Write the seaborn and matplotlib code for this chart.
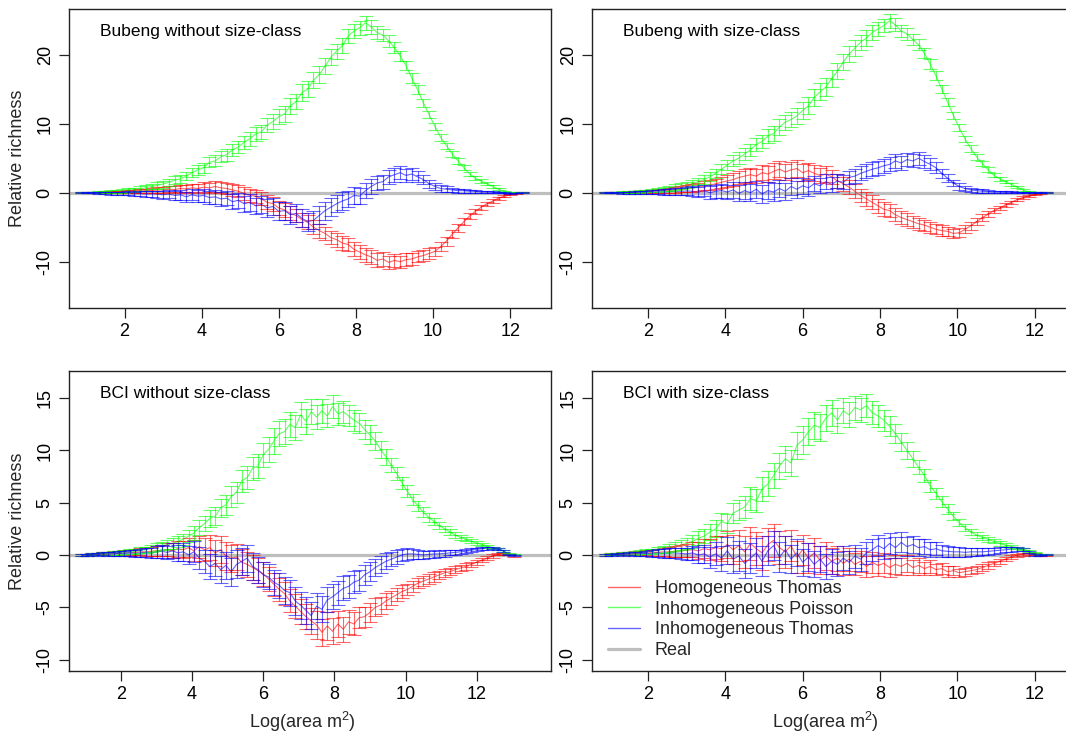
import numpy as np
import pandas as pd
import matplotlib
matplotlib.use("Agg")
import matplotlib.pyplot as plt
from matplotlib.lines import Line2D
import seaborn as sns

# ---------------------------------------------------------------------------
# Relative richness (simulated minus real) along log(area) for three models.
# Each panel is sampled on a regular log(area) grid starting at X_START.
# ---------------------------------------------------------------------------
X_START = 0.9
X_STEP = 0.15

MODELS = ["Homogeneous Thomas", "Inhomogeneous Poisson", "Inhomogeneous Thomas"]
MODEL_COLORS = ["#FF0000", "#00FF00", "#0000FF"]
REAL_LABEL = "Real"

# ---- Bubeng without size-class ----
bub_nosc_ht = [0.0, 0.0, 0.0, 0.05, 0.05, 0.1, 0.1, 0.1, 0.15, 0.2,
               0.2, 0.3, 0.3, 0.4, 0.4, 0.5, 0.45, 0.6, 0.55, 0.7,
               0.6, 0.8, 0.7, 0.9, 0.7, 0.6, 0.4, 0.2, -0.1, -0.4,
               -0.5, -0.9, -1.4, -1.6, -2.2, -2.5, -3.0, -3.3, -3.9, -4.3,
               -5.0, -5.5, -5.9, -6.5, -6.8, -7.3, -7.5, -8.2, -8.6, -9.0,
               -9.3, -9.8, -9.6, -10.1, -9.8, -10.0, -9.7, -9.6, -9.3, -9.1,
               -8.8, -8.5, -7.8, -7.0, -6.0, -5.1, -4.2, -3.4, -2.7, -2.1,
               -1.6, -1.2, -0.8, -0.5, -0.3, -0.1, 0.0]
bub_nosc_ht_se = [0.1, 0.1, 0.1, 0.1, 0.15, 0.15, 0.2, 0.2, 0.2, 0.25,
                  0.3, 0.3, 0.35, 0.4, 0.4, 0.45, 0.5, 0.55, 0.6, 0.6,
                  0.65, 0.7, 0.7, 0.75, 0.8, 0.8, 0.85, 0.85, 0.9, 0.9,
                  0.95, 0.95, 1.0, 1.0, 1.0, 1.0, 1.0, 1.0, 1.0, 1.0,
                  1.0, 1.0, 1.0, 1.0, 1.0, 1.0, 1.0, 1.0, 1.0, 1.0,
                  1.0, 1.0, 1.0, 0.95, 0.95, 0.9, 0.9, 0.85, 0.8, 0.8,
                  0.75, 0.7, 0.7, 0.65, 0.6, 0.55, 0.5, 0.45, 0.4, 0.35,
                  0.3, 0.25, 0.2, 0.15, 0.1, 0.05, 0.05]
bub_nosc_ip = [0.0, 0.0, 0.05, 0.1, 0.1, 0.15, 0.2, 0.25, 0.35, 0.45,
               0.55, 0.7, 0.9, 1.05, 1.25, 1.5, 1.8, 2.0, 2.4, 2.9,
               3.3, 3.6, 4.4, 4.6, 5.2, 5.5, 6.2, 6.6, 7.3, 7.8,
               8.5, 8.8, 9.8, 10.3, 11.0, 11.4, 12.6, 13.2, 14.5, 15.0,
               16.3, 17.1, 18.3, 19.6, 20.5, 21.3, 22.7, 23.4, 23.9, 24.6,
               24.0, 23.2, 22.8, 22.0, 21.0, 19.8, 18.4, 16.6, 14.9, 13.0,
               11.3, 9.6, 8.0, 6.8, 5.6, 4.6, 3.6, 2.7, 2.1, 1.7,
               1.3, 0.9, 0.5, 0.15, 0.0, 0.0, 0.0]
bub_nosc_ip_se = [0.1, 0.1, 0.1, 0.15, 0.15, 0.2, 0.2, 0.25, 0.3, 0.3,
                  0.35, 0.4, 0.4, 0.45, 0.5, 0.5, 0.55, 0.6, 0.6, 0.65,
                  0.7, 0.7, 0.75, 0.8, 0.8, 0.85, 0.9, 0.9, 0.95, 1.0,
                  1.0, 1.05, 1.05, 1.1, 1.1, 1.1, 1.15, 1.15, 1.2, 1.2,
                  1.2, 1.2, 1.15, 1.15, 1.1, 1.1, 1.05, 1.05, 1.0, 1.0,
                  0.95, 0.9, 0.9, 0.85, 0.8, 0.75, 0.7, 0.7, 0.65, 0.6,
                  0.55, 0.5, 0.5, 0.45, 0.4, 0.4, 0.35, 0.3, 0.3, 0.25,
                  0.2, 0.2, 0.15, 0.1, 0.05, 0.05, 0.05]
bub_nosc_it = [0.0, 0.0, 0.0, -0.05, -0.05, -0.1, -0.1, -0.1, -0.1, -0.15,
               -0.1, -0.2, -0.15, -0.2, -0.3, -0.2, -0.4, -0.3, -0.6, -0.3,
               -0.5, -0.4, -0.7, -0.6, -0.9, -0.8, -1.3, -1.1, -1.6, -1.4,
               -1.9, -1.7, -2.2, -2.0, -2.7, -2.6, -3.2, -3.0, -3.7, -4.2,
               -4.0, -3.3, -2.6, -2.1, -1.6, -1.2, -0.9, -0.4, -0.5, 0.3,
               0.9, 1.4, 1.6, 2.3, 2.6, 2.9, 2.5, 2.7, 2.3, 1.9,
               1.3, 0.9, 0.6, 0.5, 0.4, 0.3, 0.3, 0.2, 0.2, 0.1,
               0.1, 0.05, 0.0, 0.0, -0.1, -0.05, 0.0]
bub_nosc_it_se = [0.1, 0.1, 0.1, 0.15, 0.15, 0.2, 0.2, 0.25, 0.3, 0.3,
                  0.35, 0.4, 0.45, 0.5, 0.55, 0.6, 0.65, 0.7, 0.75, 0.8,
                  0.85, 0.9, 0.95, 1.0, 1.0, 1.05, 1.1, 1.1, 1.15, 1.2,
                  1.2, 1.2, 1.25, 1.25, 1.3, 1.3, 1.3, 1.3, 1.3, 1.3,
                  1.3, 1.3, 1.3, 1.3, 1.25, 1.25, 1.2, 1.2, 1.15, 1.1,
                  1.1, 1.05, 1.0, 1.0, 1.0, 0.95, 0.9, 0.85, 0.8, 0.7,
                  0.6, 0.5, 0.45, 0.4, 0.35, 0.3, 0.3, 0.25, 0.2, 0.2,
                  0.15, 0.15, 0.1, 0.1, 0.05, 0.05, 0.05]

# ---- Bubeng with size-class ----
bub_sc_ht = [0.0, 0.0, 0.0, 0.05, 0.05, 0.1, 0.1, 0.15, 0.2, 0.25,
             0.3, 0.35, 0.4, 0.5, 0.6, 0.7, 0.8, 1.0, 1.1, 1.3,
             1.5, 1.7, 1.9, 2.2, 2.4, 2.6, 2.4, 2.9, 2.7, 3.1,
             3.4, 3.0, 3.3, 3.5, 2.9, 3.2, 2.8, 2.5, 2.7, 2.3,
             1.7, 1.3, 0.8, 0.2, -0.4, -0.9, -1.4, -1.9, -2.4, -2.6,
             -3.2, -3.6, -3.9, -4.2, -4.5, -4.7, -5.0, -5.3, -5.5, -5.6,
             -5.9, -5.8, -5.3, -4.8, -4.2, -3.6, -3.1, -2.6, -2.2, -1.8,
             -1.4, -1.0, -0.7, -0.5, -0.3, -0.1, 0.0]
bub_sc_ht_se = [0.1, 0.1, 0.1, 0.1, 0.15, 0.15, 0.2, 0.2, 0.25, 0.3,
                0.3, 0.35, 0.4, 0.45, 0.5, 0.55, 0.6, 0.65, 0.7, 0.75,
                0.8, 0.85, 0.9, 0.95, 1.0, 1.0, 1.05, 1.1, 1.1, 1.15,
                1.2, 1.2, 1.2, 1.2, 1.2, 1.15, 1.15, 1.1, 1.1, 1.05,
                1.05, 1.0, 1.0, 1.0, 1.0, 1.0, 1.0, 1.0, 1.0, 0.95,
                0.95, 0.9, 0.9, 0.85, 0.85, 0.8, 0.8, 0.75, 0.75, 0.7,
                0.7, 0.65, 0.6, 0.55, 0.5, 0.45, 0.4, 0.35, 0.3, 0.3,
                0.25, 0.2, 0.15, 0.1, 0.1, 0.05, 0.05]
bub_sc_ip = [0.0, 0.0, 0.05, 0.1, 0.1, 0.15, 0.2, 0.25, 0.3, 0.4,
             0.5, 0.6, 0.8, 0.95, 1.1, 1.3, 1.6, 1.9, 2.3, 2.8,
             3.4, 4.0, 4.6, 5.0, 5.6, 6.2, 7.0, 7.4, 8.2, 8.6,
             9.5, 10.2, 10.6, 11.1, 11.9, 12.6, 13.8, 14.6, 15.3, 16.5,
             17.6, 18.9, 20.1, 20.9, 21.8, 22.4, 23.2, 23.7, 24.2, 24.9,
             24.3, 23.4, 23.0, 22.2, 21.4, 20.2, 18.6, 16.9, 15.0, 13.1,
             11.2, 9.4, 7.8, 6.4, 5.2, 4.2, 3.3, 2.5, 2.0, 1.6,
             1.2, 0.8, 0.4, 0.1, 0.0, 0.0, 0.0]
bub_sc_ip_se = [0.1, 0.1, 0.1, 0.1, 0.15, 0.15, 0.2, 0.2, 0.25, 0.3,
                0.3, 0.35, 0.4, 0.45, 0.45, 0.5, 0.55, 0.6, 0.65, 0.7,
                0.7, 0.75, 0.8, 0.85, 0.9, 0.9, 0.95, 1.0, 1.0, 1.05,
                1.1, 1.1, 1.15, 1.15, 1.2, 1.2, 1.2, 1.25, 1.25, 1.2,
                1.2, 1.2, 1.15, 1.15, 1.1, 1.1, 1.05, 1.0, 1.0, 1.0,
                0.95, 0.9, 0.85, 0.85, 0.8, 0.75, 0.7, 0.65, 0.6, 0.6,
                0.55, 0.5, 0.45, 0.45, 0.4, 0.35, 0.35, 0.3, 0.25, 0.25,
                0.2, 0.15, 0.15, 0.1, 0.05, 0.05, 0.05]
bub_sc_it = [0.0, 0.0, 0.0, 0.0, 0.0, 0.0, 0.0, 0.05, 0.05, 0.1,
             0.1, 0.15, 0.2, 0.2, 0.25, 0.2, 0.1, 0.3, 0.0, 0.2,
             0.3, 0.1, 0.4, -0.1, 0.3, 0.0, 0.5, -0.2, 0.3, 0.1,
             0.6, 0.2, 0.9, 0.5, 1.0, 0.7, 1.3, 1.0, 1.6, 1.2,
             1.7, 1.5, 2.2, 2.4, 2.8, 3.1, 3.4, 3.6, 3.9, 4.1,
             4.6, 4.3, 4.8, 4.6, 5.0, 4.5, 4.1, 3.6, 2.8, 2.1,
             1.4, 0.9, 0.6, 0.4, 0.3, 0.2, 0.15, 0.1, 0.1, 0.05,
             0.05, 0.0, 0.0, 0.0, 0.0, 0.0, 0.0]
bub_sc_it_se = [0.1, 0.1, 0.1, 0.15, 0.15, 0.2, 0.2, 0.25, 0.3, 0.35,
                0.4, 0.45, 0.5, 0.55, 0.6, 0.7, 0.75, 0.8, 0.9, 0.95,
                1.0, 1.05, 1.1, 1.15, 1.2, 1.2, 1.25, 1.25, 1.25, 1.25,
                1.2, 1.2, 1.2, 1.2, 1.15, 1.15, 1.1, 1.1, 1.1, 1.05,
                1.05, 1.0, 1.0, 1.0, 1.0, 1.0, 1.0, 1.0, 1.0, 1.0,
                1.0, 1.0, 1.0, 0.95, 0.95, 0.9, 0.85, 0.8, 0.7, 0.6,
                0.5, 0.45, 0.4, 0.35, 0.3, 0.3, 0.25, 0.2, 0.2, 0.15,
                0.15, 0.1, 0.1, 0.05, 0.05, 0.05, 0.05]

# ---- BCI without size-class ----
bci_nosc_ht = [0.0, 0.0, 0.05, 0.05, 0.1, 0.1, 0.15, 0.15, 0.2, 0.2,
               0.25, 0.3, 0.3, 0.35, 0.4, 0.45, 0.5, 0.4, 0.6, 0.5,
               0.7, 0.4, 0.8, 0.5, 0.7, 0.2, 0.5, -0.1, -0.3, -0.2,
               -0.7, -0.9, -1.2, -1.5, -1.8, -2.3, -2.8, -3.3, -3.7, -4.4,
               -4.9, -5.4, -5.9, -6.3, -6.7, -7.4, -6.8, -7.3, -6.6, -7.1,
               -6.4, -6.6, -6.0, -5.9, -5.5, -5.0, -4.8, -4.4, -4.1, -3.8,
               -3.5, -3.3, -3.0, -2.7, -2.5, -2.3, -2.1, -1.9, -1.7, -1.6,
               -1.4, -1.25, -1.1, -0.9, -0.7, -0.5, -0.3, -0.1, 0.05, 0.1,
               0.0, -0.1]
bci_nosc_ht_se = [0.1, 0.1, 0.1, 0.1, 0.15, 0.15, 0.2, 0.2, 0.25, 0.3,
                  0.3, 0.35, 0.4, 0.45, 0.5, 0.55, 0.6, 0.7, 0.75, 0.8,
                  0.9, 1.0, 1.05, 1.1, 1.2, 1.25, 1.3, 1.3, 1.3, 1.25,
                  1.25, 1.2, 1.2, 1.2, 1.15, 1.15, 1.1, 1.1, 1.1, 1.1,
                  1.15, 1.2, 1.2, 1.25, 1.3, 1.3, 1.3, 1.25, 1.2, 1.2,
                  1.15, 1.1, 1.0, 0.95, 0.9, 0.85, 0.8, 0.75, 0.7, 0.65,
                  0.6, 0.55, 0.55, 0.5, 0.5, 0.45, 0.45, 0.4, 0.4, 0.35,
                  0.35, 0.3, 0.3, 0.25, 0.25, 0.2, 0.2, 0.15, 0.1, 0.1,
                  0.05, 0.05]
bci_nosc_ip = [0.0, 0.0, 0.05, 0.1, 0.1, 0.15, 0.2, 0.2, 0.25, 0.3,
               0.35, 0.45, 0.5, 0.65, 0.75, 0.85, 1.0, 1.1, 1.3, 1.5,
               1.8, 2.1, 2.6, 3.0, 3.5, 3.7, 4.5, 4.8, 5.6, 6.0,
               7.1, 7.4, 8.3, 8.5, 9.6, 10.1, 10.9, 11.6, 11.8, 12.5,
               12.2, 13.4, 12.8, 13.7, 13.2, 13.8, 13.3, 14.2, 13.5, 13.7,
               13.3, 12.9, 12.6, 12.0, 11.5, 10.9, 10.1, 9.4, 8.6, 7.8,
               6.9, 6.1, 5.3, 4.7, 4.1, 3.6, 3.2, 2.8, 2.5, 2.2,
               1.9, 1.7, 1.5, 1.3, 1.15, 1.0, 0.85, 0.7, 0.6, 0.4,
               0.1, 0.0]
bci_nosc_ip_se = [0.1, 0.1, 0.1, 0.1, 0.15, 0.15, 0.2, 0.2, 0.2, 0.25,
                  0.25, 0.3, 0.3, 0.35, 0.4, 0.4, 0.45, 0.5, 0.5, 0.55,
                  0.6, 0.65, 0.7, 0.75, 0.8, 0.85, 0.9, 0.95, 1.0, 1.0,
                  1.05, 1.1, 1.1, 1.15, 1.15, 1.2, 1.2, 1.2, 1.2, 1.2,
                  1.2, 1.2, 1.2, 1.2, 1.15, 1.15, 1.1, 1.1, 1.05, 1.05,
                  1.0, 1.0, 0.95, 0.9, 0.9, 0.85, 0.8, 0.75, 0.7, 0.65,
                  0.6, 0.55, 0.5, 0.45, 0.45, 0.4, 0.35, 0.35, 0.3, 0.3,
                  0.25, 0.25, 0.2, 0.2, 0.2, 0.15, 0.15, 0.1, 0.1, 0.1,
                  0.05, 0.05]
bci_nosc_it = [0.0, 0.0, 0.05, 0.05, 0.1, 0.1, 0.1, 0.15, 0.15, 0.2,
               0.15, 0.2, 0.25, 0.2, 0.3, 0.35, 0.25, 0.4, 0.2, 0.3,
               0.0, 0.3, -0.3, -0.6, -1.1, -0.8, -1.4, -1.0, -1.6, -0.9,
               -0.6, -0.3, -1.1, -1.4, -1.9, -2.1, -2.6, -2.9, -3.4, -3.6,
               -4.4, -4.8, -5.3, -5.8, -4.9, -5.2, -4.3, -4.0, -3.6, -3.2,
               -3.0, -2.6, -2.4, -1.9, -1.6, -1.2, -0.9, -0.6, -0.4, -0.2,
               0.0, 0.1, 0.1, 0.05, 0.0, 0.05, 0.1, 0.1, 0.15, 0.2,
               0.25, 0.3, 0.35, 0.45, 0.55, 0.6, 0.65, 0.65, 0.6, 0.4,
               0.0, -0.05]
bci_nosc_it_se = [0.1, 0.1, 0.1, 0.15, 0.15, 0.2, 0.2, 0.25, 0.25, 0.3,
                  0.35, 0.4, 0.45, 0.5, 0.55, 0.6, 0.65, 0.7, 0.8, 0.85,
                  0.9, 1.0, 1.05, 1.1, 1.2, 1.25, 1.3, 1.3, 1.35, 1.35,
                  1.3, 1.3, 1.25, 1.25, 1.2, 1.2, 1.2, 1.2, 1.25, 1.25,
                  1.3, 1.3, 1.3, 1.3, 1.25, 1.25, 1.2, 1.2, 1.15, 1.15,
                  1.1, 1.05, 1.0, 0.95, 0.9, 0.85, 0.8, 0.75, 0.7, 0.65,
                  0.6, 0.55, 0.5, 0.45, 0.4, 0.35, 0.35, 0.3, 0.3, 0.25,
                  0.25, 0.2, 0.2, 0.2, 0.15, 0.15, 0.15, 0.1, 0.1, 0.1,
                  0.05, 0.05]

# ---- BCI with size-class ----
bci_sc_ht = [0.0, 0.05, 0.05, 0.1, 0.1, 0.15, 0.15, 0.2, 0.2, 0.25,
             0.3, 0.3, 0.35, 0.4, 0.45, 0.5, 0.4, 0.6, 0.5, 0.7,
             0.6, 1.0, 0.5, 0.9, 0.3, 1.1, 0.6, 0.2, 1.0, 1.4,
             0.7, 0.3, 0.9, -0.2, 0.5, -0.3, 0.2, -0.5, -0.1, -0.6,
             -0.3, -0.8, -0.4, -0.9, -0.6, -1.1, -0.7, -1.0, -0.8, -1.2,
             -0.9, -1.1, -0.8, -1.2, -1.0, -1.3, -1.1, -1.4, -1.3, -1.6,
             -1.5, -1.7, -1.6, -1.5, -1.4, -1.2, -1.0, -0.8, -0.6, -0.4,
             -0.2, -0.05, 0.05, 0.1, 0.05, -0.05, -0.05]
bci_sc_ht_se = [0.1, 0.1, 0.1, 0.15, 0.15, 0.2, 0.2, 0.25, 0.3, 0.35,
                0.4, 0.45, 0.5, 0.55, 0.6, 0.7, 0.8, 0.9, 1.0, 1.1,
                1.2, 1.3, 1.4, 1.5, 1.5, 1.6, 1.6, 1.6, 1.6, 1.6,
                1.55, 1.55, 1.5, 1.5, 1.45, 1.4, 1.4, 1.35, 1.3, 1.25,
                1.2, 1.15, 1.1, 1.05, 1.0, 1.0, 1.0, 1.0, 0.95, 0.9,
                0.9, 0.85, 0.8, 0.75, 0.7, 0.65, 0.6, 0.55, 0.5, 0.5,
                0.45, 0.4, 0.4, 0.35, 0.35, 0.3, 0.3, 0.25, 0.25, 0.2,
                0.2, 0.15, 0.15, 0.1, 0.1, 0.05, 0.05]
bci_sc_ip = [0.0, 0.05, 0.1, 0.1, 0.15, 0.2, 0.25, 0.3, 0.35, 0.45,
             0.55, 0.65, 0.8, 0.95, 1.1, 1.3, 1.6, 1.8, 2.2, 2.5,
             3.2, 3.0, 4.0, 4.3, 4.6, 5.4, 5.2, 6.3, 6.8, 7.6,
             8.5, 9.2, 8.8, 10.5, 11.0, 11.8, 12.4, 12.2, 13.1, 13.6,
             12.9, 13.8, 13.4, 14.1, 13.9, 14.3, 13.6, 13.3, 12.9, 12.3,
             11.6, 10.8, 10.0, 9.2, 8.4, 7.6, 6.6, 5.9, 5.1, 4.4,
             3.7, 3.1, 2.6, 2.2, 1.9, 1.7, 1.5, 1.3, 1.1, 0.95,
             0.8, 0.7, 0.55, 0.4, 0.2, 0.05, 0.0]
bci_sc_ip_se = [0.1, 0.1, 0.1, 0.15, 0.15, 0.2, 0.2, 0.25, 0.25, 0.3,
                0.35, 0.4, 0.45, 0.5, 0.55, 0.6, 0.65, 0.7, 0.75, 0.8,
                0.85, 0.9, 0.95, 1.0, 1.05, 1.1, 1.1, 1.15, 1.2, 1.2,
                1.25, 1.25, 1.25, 1.3, 1.3, 1.3, 1.3, 1.3, 1.25, 1.25,
                1.2, 1.2, 1.2, 1.15, 1.15, 1.1, 1.1, 1.05, 1.0, 0.95,
                0.9, 0.85, 0.8, 0.75, 0.7, 0.65, 0.6, 0.55, 0.5, 0.45,
                0.4, 0.35, 0.35, 0.3, 0.3, 0.25, 0.25, 0.2, 0.2, 0.15,
                0.15, 0.1, 0.1, 0.1, 0.05, 0.05, 0.05]
bci_sc_it = [0.0, 0.0, 0.05, 0.05, 0.1, 0.1, 0.1, 0.15, 0.15, 0.2,
             0.15, 0.2, 0.2, 0.15, 0.1, 0.2, 0.0, 0.1, -0.2, 0.1,
             -0.3, 0.4, -0.4, -0.1, -0.8, -0.3, 0.2, -0.6, 0.4, 0.9,
             -0.2, 0.5, -0.4, 0.2, -0.7, -0.2, -0.9, -0.4, -1.1, -0.6,
             -0.9, -0.3, -0.7, -0.1, -0.4, 0.2, 0.5, 0.9, 0.6, 1.1,
             0.7, 1.2, 0.8, 1.0, 0.7, 0.8, 0.5, 0.6, 0.4, 0.35,
             0.3, 0.3, 0.25, 0.3, 0.3, 0.3, 0.35, 0.4, 0.45, 0.5,
             0.55, 0.6, 0.5, 0.3, 0.0, -0.05, 0.0]
bci_sc_it_se = [0.1, 0.1, 0.1, 0.15, 0.15, 0.2, 0.2, 0.25, 0.3, 0.35,
                0.4, 0.45, 0.5, 0.55, 0.6, 0.7, 0.8, 0.9, 1.0, 1.1,
                1.2, 1.3, 1.35, 1.4, 1.4, 1.45, 1.45, 1.45, 1.4, 1.4,
                1.4, 1.35, 1.35, 1.3, 1.3, 1.3, 1.25, 1.25, 1.2, 1.2,
                1.15, 1.15, 1.1, 1.1, 1.1, 1.05, 1.05, 1.0, 1.0, 1.0,
                1.0, 0.95, 0.9, 0.85, 0.8, 0.75, 0.7, 0.65, 0.6, 0.55,
                0.5, 0.45, 0.45, 0.4, 0.4, 0.35, 0.35, 0.3, 0.3, 0.25,
                0.25, 0.2, 0.15, 0.1, 0.1, 0.05, 0.05]

PANEL_TITLES = ["Bubeng without size-class", "Bubeng with size-class",
                "BCI without size-class", "BCI with size-class"]
X_TICKS = [2, 4, 6, 8, 10, 12]
Y_TICKS_BUBENG = [-10, 0, 10, 20]
Y_TICKS_BCI = [-10, -5, 0, 5, 10, 15]
Y_LABEL = "Relative richness"
X_LABEL = "Log(area m$^{2}$)"

panels = [
    dict(title=PANEL_TITLES[0], series=[(bub_nosc_ht, bub_nosc_ht_se),
                                        (bub_nosc_ip, bub_nosc_ip_se),
                                        (bub_nosc_it, bub_nosc_it_se)],
         xlim=(0.56, 13.06), ylim=(-16.7, 26.6), yticks=Y_TICKS_BUBENG,
         box=(69, 9, 482, 299), left=True, bottom=False, legend=False),
    dict(title=PANEL_TITLES[1], series=[(bub_sc_ht, bub_sc_ht_se),
                                        (bub_sc_ip, bub_sc_ip_se),
                                        (bub_sc_it, bub_sc_it_se)],
         xlim=(0.55, 13.02), ylim=(-16.7, 26.6), yticks=Y_TICKS_BUBENG,
         box=(592, 9, 482, 299), left=False, bottom=False, legend=False),
    dict(title=PANEL_TITLES[2], series=[(bci_nosc_ht, bci_nosc_ht_se),
                                        (bci_nosc_ip, bci_nosc_ip_se),
                                        (bci_nosc_it, bci_nosc_it_se)],
         xlim=(0.54, 14.09), ylim=(-11.1, 17.6), yticks=Y_TICKS_BCI,
         box=(69, 371, 482, 300), left=True, bottom=True, legend=False),
    dict(title=PANEL_TITLES[3], series=[(bci_sc_ht, bci_sc_ht_se),
                                        (bci_sc_ip, bci_sc_ip_se),
                                        (bci_sc_it, bci_sc_it_se)],
         xlim=(0.55, 13.02), ylim=(-11.1, 17.6), yticks=Y_TICKS_BCI,
         box=(592, 371, 482, 300), left=False, bottom=True, legend=True),
]

# ---------------------------------------------------------------------------
sns.set_theme(style="white")
plt.rcParams["font.family"] = ["Liberation Sans", "DejaVu Sans"]
plt.rcParams["mathtext.fontset"] = "custom"
plt.rcParams["mathtext.rm"] = "Liberation Sans"
plt.rcParams["mathtext.it"] = "Liberation Sans:italic"

W, H = 1066, 733
fig = plt.figure(figsize=(W / 100, H / 100), dpi=100)
fig.patch.set_facecolor("white")

SERIES_ALPHA = 0.6
FRAME = "#222222"


def box_to_rect(left, top, width, height):
    return [left / W, 1 - (top + height) / H, width / W, height / H]


for p in panels:
    ax = fig.add_axes(box_to_rect(*p["box"]))
    ax.set_facecolor("white")

    # zero line: the real community relative to itself
    ax.axhline(0, color="#BEBEBE", lw=2.3, zorder=1)

    frames = []
    for model, (mean, se) in zip(MODELS, p["series"]):
        n = len(mean)
        logA = X_START + X_STEP * np.arange(n)
        frames.append(pd.DataFrame({"logA": logA, "richness": mean,
                                    "se": se, "model": model}))
    df = pd.concat(frames, ignore_index=True)

    sns.lineplot(data=df, x="logA", y="richness", hue="model",
                 hue_order=MODELS, palette=MODEL_COLORS, estimator=None,
                 lw=0.8, alpha=SERIES_ALPHA, legend=False, ax=ax, zorder=3)
    for model, color in zip(MODELS, MODEL_COLORS):
        sub = df[df["model"] == model]
        ax.errorbar(sub["logA"], sub["richness"], yerr=sub["se"], fmt="none",
                    ecolor=color, elinewidth=0.8, capsize=5, capthick=0.8,
                    alpha=SERIES_ALPHA, zorder=3)

    ax.set_xlim(*p["xlim"])
    ax.set_ylim(*p["ylim"])
    ax.set_xticks(X_TICKS)
    ax.set_yticks(p["yticks"])
    ax.set_xticklabels([str(t) for t in X_TICKS])
    ax.set_yticklabels([str(t) for t in p["yticks"]])
    ax.tick_params(axis="both", direction="out", length=7, width=0.9,
                   color=FRAME, labelsize=13, labelcolor="black", pad=4,
                   bottom=True, left=True)
    for lab in ax.get_yticklabels():
        lab.set_rotation(90)
        lab.set_va("center")
    for s in ax.spines.values():
        s.set_visible(True)
        s.set_color(FRAME)
        s.set_linewidth(1.0)

    ax.set_xlabel("")
    ax.set_ylabel("")
    if p["left"]:
        ax.set_ylabel(Y_LABEL, fontsize=13)
        ax.yaxis.set_label_coords(-0.09, 0.5)
    if p["bottom"]:
        ax.set_xlabel(X_LABEL, fontsize=13)
        ax.xaxis.set_label_coords(0.485, -0.128)

    ax.text(0.064, 0.925, p["title"], transform=ax.transAxes,
            ha="left", va="center", fontsize=12.5, color="black")

    if p["legend"]:
        handles = [Line2D([], [], color=c, lw=1.0, alpha=SERIES_ALPHA)
                   for c in MODEL_COLORS]
        handles.append(Line2D([], [], color="#BEBEBE", lw=2.3))
        ax.legend(handles, MODELS + [REAL_LABEL], loc="upper left",
                  bbox_to_anchor=(608 / W, 1 - 580 / H),
                  bbox_transform=fig.transFigure, frameon=False,
                  fontsize=13, handlelength=1.75, handletextpad=0.85,
                  labelspacing=0.2, borderpad=0, borderaxespad=0)

fig.savefig("out.png", dpi=100, facecolor="white")
